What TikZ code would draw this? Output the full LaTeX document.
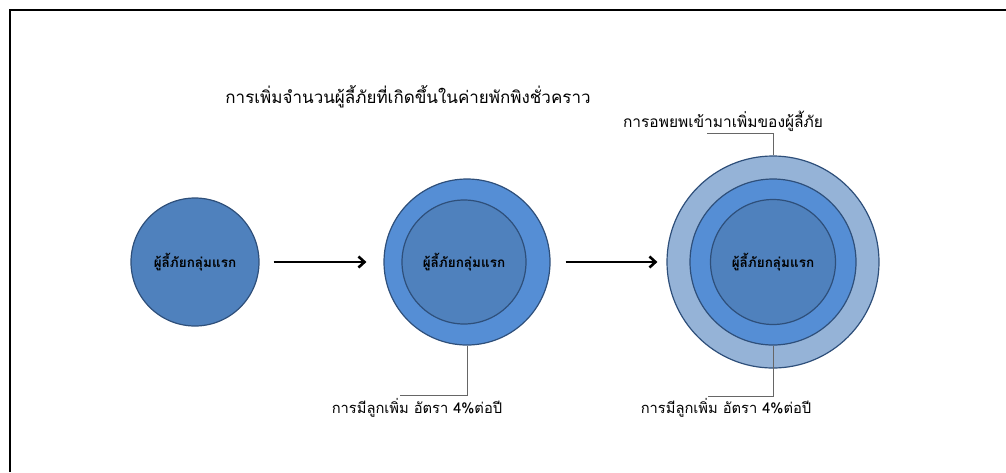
\documentclass[tikz,border=0pt]{standalone}
\usepackage{fontspec}
\newfontfamily\thaifont[Script=Thai]{Loma}
\usetikzlibrary{arrows.meta}
\definecolor{ringA}{HTML}{4F81BD}
\definecolor{ringB}{HTML}{558ED5}
\definecolor{ringC}{HTML}{95B3D7}
\definecolor{edgeC}{HTML}{2E4F7A}
\tikzset{
  disc/.style={circle, draw=edgeC, line width=1.2pt, inner sep=0pt, minimum size=#1},
  lbl/.style={font=\thaifont\fontsize{14.7}{17}\selectfont, inner sep=0pt},
  inlbl/.style={font=\thaifont\bfseries\fontsize{13.5}{16}\selectfont, inner sep=0pt},
  flow/.style={line width=2.6pt, -{Straight Barb[length=6pt,width=11pt,line width=2.6pt]}},
  leader/.style={draw=black!60, line width=0.9pt},
  frame/.style={line width=2pt}
}
\begin{document}
\begin{tikzpicture}[x=1pt,y=-1pt]
\useasboundingbox (0,0) rectangle (1006,472);
\draw[frame] (10,472) -- (10,10) -- (1006,10);
\node[lbl, font=\thaifont\fontsize{17}{20}\selectfont] (title) at (408,97) {การเพิ่มจำนวนผู้ลี้ภัยที่เกิดขึ้นในค่ายพักพิงชั่วคราว};
% stage 1
\node[disc=128pt, fill=ringA] (c1) at (195,262) {};
\node[inlbl] (t1) at (c1) {ผู้ลี้ภัยกลุ่มแรก};
% stage 2
\node[disc=166pt, fill=ringB] (c2o) at (467,262) {};
\node[disc=124pt, fill=ringA] (c2i) at (464,262) {};
\node[inlbl] (t2) at (c2i) {ผู้ลี้ภัยกลุ่มแรก};
% stage 3
\node[disc=212pt, fill=ringC] (c3o) at (773,262) {};
\node[disc=166pt, fill=ringB] (c3m) at (773,262) {};
\node[disc=125pt, fill=ringA] (c3i) at (773,262) {};
\node[inlbl] (t3) at (c3i) {ผู้ลี้ภัยกลุ่มแรก};
% arrows
\draw[flow, shorten <=14pt, shorten >=17pt] (c1.east) -- (c2o.west);
\draw[flow, shorten <=15pt, shorten >=9pt] (c2o.east) -- (c3o.west);
% top leader
\coordinate (k1) at (773,133);
\coordinate (k2) at (707,133);
\draw[leader] (c3o.north) -- (k1) -- (k2);
\node[lbl, font=\thaifont\fontsize{15.5}{18}\selectfont] (l1) at (723,121) {การอพยพเข้ามาเพิ่มของผู้ลี้ภัย};
% bottom leaders
\coordinate (k3) at (467,395);
\coordinate (k4) at (400,395);
\draw[leader] (c2o.south) -- (k3) -- (k4);
\node[lbl] (l2) at (417,408) {การมีลูกเพิ่ม อัตรา 4\%ต่อปี};
\coordinate (k5) at (773,396);
\coordinate (k6) at (708,396);
\draw[leader] (c3m.south) -- (k5) -- (k6);
\node[lbl] (l3) at (726,408) {การมีลูกเพิ่ม อัตรา 4\%ต่อปี};
\end{tikzpicture}
\end{document}
